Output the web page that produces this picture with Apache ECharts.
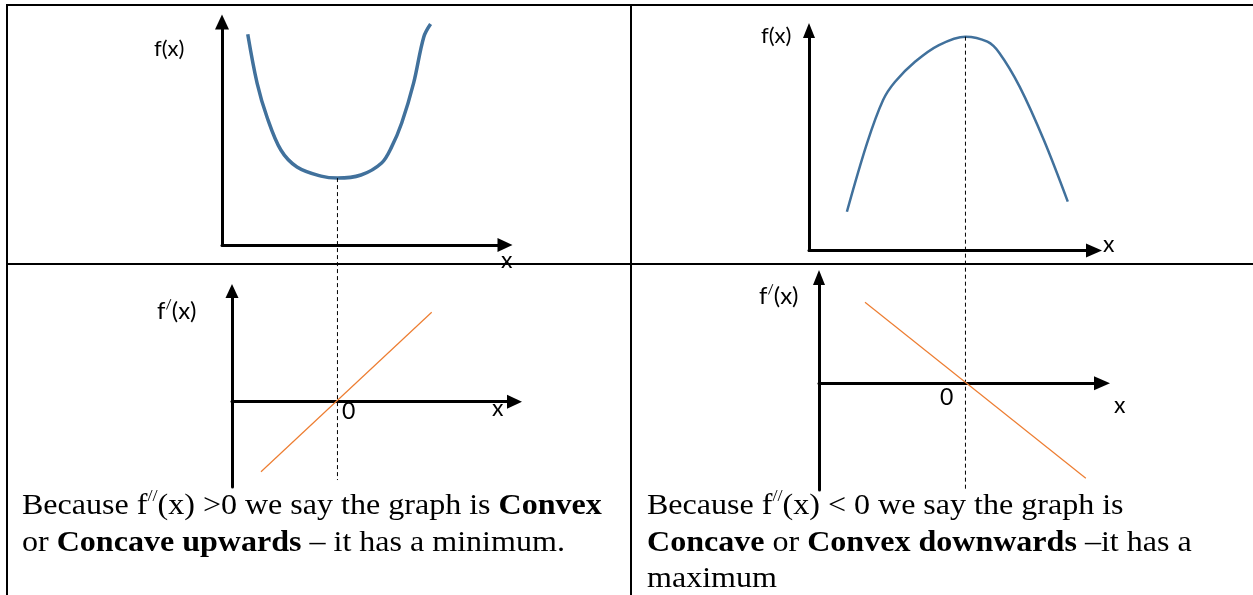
<!DOCTYPE html>
<html lang="en">
<head>
    <meta charset="UTF-8">
    <title>Convex / Concave</title>
    <style>
        body{ margin:0; background:#fff; }
        #chart{ width:1253px; height:595px; }
    </style>
</head>
<body>
<div id="chart"></div>
<script src="https://cdn.jsdelivr.net/npm/echarts@6/dist/echarts.min.js"></script>
<script>
    // f(x) with a minimum (top left)
    var convexX = [0.91, 1.24, 1.59, 2.08, 2.65, 3.50, 4.08, 4.91, 5.64, 5.99, 6.35, 6.77, 7.13, 7.37];
    var convexY = [9.45, 7.26, 5.74, 4.26, 3.50, 3.09, 3.00, 3.14, 3.68, 4.39, 5.47, 7.26, 9.33, 9.91];
    var minX = 4.08, minY = 3.0, minDropTo = -10.54;

    // f(x) with a maximum (top right)
    var concaveX = [1.33, 2.04, 2.60, 3.02, 3.72, 4.56, 5.49, 6.26, 6.68, 7.39, 8.24, 9.08];
    var concaveY = [1.76, 4.89, 6.84, 7.67, 8.58, 9.34, 9.72, 9.49, 8.98, 7.45, 5.02, 2.22];
    var maxX = 5.49, maxY = 9.72, maxDropTo = -10.89;

    // f'(x) lines (bottom)
    var slopeUpX = [1.45, 9.985];
    var slopeUpY = [-3.5, 4.47];
    var slopeDownX = [2.3, 13.34];
    var slopeDownY = [4.05, -4.75];

    function pairs(xs, ys) {
        var out = [];
        for (var i = 0; i < xs.length; i++) out.push([xs[i], ys[i]]);
        return out;
    }

    function axis(grid, min, max, size, extra) {
        var a = {
            type: 'value', gridIndex: grid, min: min, max: max,
            axisLabel: {show: false}, axisTick: {show: false}, splitLine: {show: false},
            axisLine: {show: true, symbol: ['none', 'triangle'], symbolSize: size,
                lineStyle: {color: '#000', width: 3}}
        };
        if (extra) {
            for (var k in extra) a[k] = extra[k];
        }
        return a;
    }

    var sans = 'Lato, "Open Sans", sans-serif';
    var serif = '"Liberation Serif", "DejaVu Serif", serif';

    function label(x, y, text, size) {
        return {
            type: 'text', left: x, top: y, z: 10,
            style: {
                text: text, fill: '#000',
                font: size + 'px ' + sans,
                rich: {
                    n: {fontSize: size, fontFamily: sans, lineHeight: size + 4},
                    s: {fontSize: Math.round(size * 0.6), fontFamily: sans, verticalAlign: 'top', lineHeight: size + 4}
                }
            }
        };
    }

    // paragraph text, stretched a little to the width of the original
    function para(x, y, text) {
        return {
            type: 'text', left: x, top: y, z: 10, scaleX: 1.068,
            style: {
                text: text, fill: '#000',
                font: '30px ' + serif,
                rich: {
                    n: {fontSize: 30, fontFamily: serif, lineHeight: 36.5},
                    b: {fontSize: 30, fontFamily: serif, fontWeight: 'bold', lineHeight: 36.5},
                    s: {fontSize: 17, fontFamily: serif, verticalAlign: 'top', lineHeight: 36.5}
                }
            }
        };
    }

    function border(x1, y1, x2, y2) {
        return {type: 'line', z: 5, shape: {x1: x1, y1: y1, x2: x2, y2: y2},
            style: {stroke: '#000', lineWidth: 2}};
    }

    var myChart = echarts.init(document.getElementById('chart'));
    var option = {
        animation: false,
        grid: [
            {left: 222, top: 22, width: 283, height: 223},
            {left: 809, top: 30.5, width: 285, height: 220},
            {left: 232, top: 291, width: 282.5, height: 196},
            {left: 819, top: 277.5, width: 283, height: 212.5}
        ],
        xAxis: [
            axis(0, 0, 10, [14, 15]),
            axis(1, 0, 10, [14, 16]),
            axis(2, 0, 14.125, [14, 15]),
            axis(3, 0, 14.15, [14, 16])
        ],
        yAxis: [
            axis(0, 0, 10, [14, 15]),
            axis(1, 0, 10, [12, 15]),
            axis(2, -4.265, 5.535, [13, 14]),
            axis(3, -5.335, 5.29, [12, 15], {offset: 6})
        ],
        series: [
            {type: 'line', xAxisIndex: 0, yAxisIndex: 0, data: pairs(convexX, convexY),
                smooth: 0.35, symbol: 'none', lineStyle: {color: '#41719c', width: 3.5}},
            {type: 'line', xAxisIndex: 0, yAxisIndex: 0, clip: false, symbol: 'none',
                data: [[minX, minY], [minX, minDropTo]],
                lineStyle: {color: '#000', width: 1, type: [4, 3]}},
            {type: 'line', xAxisIndex: 1, yAxisIndex: 1, data: pairs(concaveX, concaveY),
                smooth: 0.35, symbol: 'none', lineStyle: {color: '#41719c', width: 2.5}},
            {type: 'line', xAxisIndex: 1, yAxisIndex: 1, clip: false, symbol: 'none',
                data: [[maxX, maxY], [maxX, maxDropTo]],
                lineStyle: {color: '#000', width: 1, type: [4, 3]}},
            {type: 'line', xAxisIndex: 2, yAxisIndex: 2, data: pairs(slopeUpX, slopeUpY),
                symbol: 'none', lineStyle: {color: '#ed7d31', width: 1.2}},
            {type: 'line', xAxisIndex: 3, yAxisIndex: 3, data: pairs(slopeDownX, slopeDownY),
                symbol: 'none', lineStyle: {color: '#ed7d31', width: 1.2}}
        ],
        graphic: [
            border(6, 5, 1253, 5),
            border(7, 4, 7, 595),
            border(631, 4, 631, 595),
            border(6, 264, 1253, 264),
            label(154, 38, '{n|f(x)}', 22),
            label(501, 249, '{n|x}', 23),
            label(761, 25, '{n|f(x)}', 22),
            label(1103, 233, '{n|x}', 23),
            label(157, 297, '{n|f}{s|/}{n|(x)}', 24),
            label(342, 400, '{n|0}', 23),
            label(492, 397, '{n|x}', 23),
            label(759, 282, '{n|f}{s|/}{n|(x)}', 24),
            label(940, 386, '{n|0}', 23),
            label(1114, 394, '{n|x}', 23),
            para(22, 488, '{n|Because f}{s|//}{n|(x) >0 we say the graph is }{b|Convex}\n{n|or }{b|Concave upwards}{n| \u2013 it has a minimum.}'),
            para(647, 488, '{n|Because f}{s|//}{n|(x) < 0 we say the graph is}\n{b|Concave}{n| or }{b|Convex downwards}{n| \u2013it has a}\n{n|maximum}')
        ]
    };
    myChart.setOption(option);
</script>
</body>
</html>
